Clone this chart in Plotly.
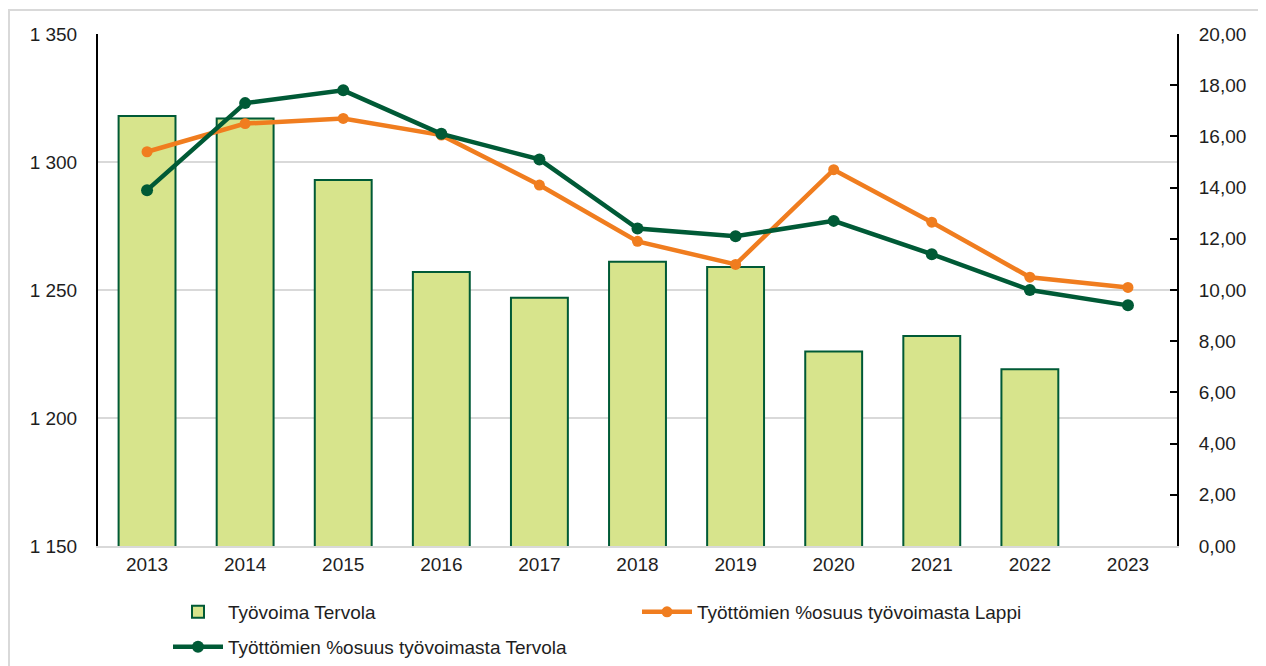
import plotly.graph_objects as go

years = ["2013", "2014", "2015", "2016", "2017", "2018", "2019", "2020", "2021", "2022", "2023"]
tyovoima_tervola = [1318, 1317, 1293, 1257, 1247, 1261, 1259, 1226, 1232, 1219, None]
osuus_lappi = [15.4, 16.5, 16.7, 16.05, 14.1, 11.9, 11.0, 14.7, 12.65, 10.5, 10.1]
osuus_tervola = [13.9, 17.3, 17.8, 16.1, 15.1, 12.4, 12.1, 12.7, 11.4, 10.0, 9.4]

left_ticks = [1150, 1200, 1250, 1300, 1350]
right_ticks = [0, 2, 4, 6, 8, 10, 12, 14, 16, 18, 20]

DARK = "#005a36"
ORANGE = "#f07d1f"
BARFILL = "#d7e48c"
FONT = "Liberation Sans, Arial, sans-serif"
TXT = "#1e1e1e"
FS = 19

# page body has an 8px margin: work in screen coords and shift
OFF = 8
W, H = 1266 - OFF, 666 - OFF
L, R, T, B = 98 - OFF, 1177 - OFF, 34 - OFF, 546 - OFF


def px(x):
    return (x - OFF - L) / (R - L)


def py(y):
    return (B - (y - OFF)) / (B - T)


fig = go.Figure()
fig.add_trace(go.Bar(
    x=years, y=tyovoima_tervola, name="Työvoima Tervola",
    marker=dict(color=BARFILL, line=dict(color=DARK, width=2)),
    width=0.58, yaxis="y", legend="legend",
))
fig.add_trace(go.Scatter(
    x=years, y=osuus_lappi, name="Työttömien %osuus työvoimasta Lappi",
    mode="lines+markers", line=dict(color=ORANGE, width=4.5),
    marker=dict(color=ORANGE, size=11), yaxis="y2", legend="legend",
))
fig.add_trace(go.Scatter(
    x=years, y=osuus_tervola, name="Työttömien %osuus työvoimasta Tervola",
    mode="lines+markers", line=dict(color=DARK, width=4.5),
    marker=dict(color=DARK, size=12), yaxis="y2", legend="legend2",
))

fig.update_layout(
    width=W, height=H,
    margin=dict(l=L, r=W - R, t=T, b=H - B, autoexpand=False),
    paper_bgcolor="white", plot_bgcolor="white",
    separators=", ",
    font=dict(family=FONT, size=FS, color=TXT),
    showlegend=True,
    xaxis=dict(
        type="category", categoryorder="array", categoryarray=years,
        showline=True, linecolor="#d9d9d9", linewidth=1.5,
        showgrid=False, ticks="", tickfont=dict(size=FS, color=TXT),
        range=[-0.5, 10.5], automargin=False,
    ),
    yaxis=dict(
        range=[1150, 1350], tickvals=left_ticks, tickformat=",d",
        showgrid=True, gridcolor="#d9d9d9", gridwidth=1.5,
        showline=True, linecolor="black", linewidth=2,
        ticks="", ticklabelstandoff=15, zeroline=False,
        tickfont=dict(size=FS, color=TXT), automargin=False,
    ),
    yaxis2=dict(
        range=[0, 20], tickvals=right_ticks, tickformat=".2f",
        overlaying="y", side="right",
        showgrid=False, showline=True, linecolor="black", linewidth=2,
        ticks="inside", ticklen=7, tickwidth=2, tickcolor="black",
        ticklabelstandoff=16, zeroline=False,
        tickfont=dict(size=FS, color=TXT), automargin=False,
    ),
    legend=dict(
        orientation="h", x=px(168), xanchor="left", y=py(612), yanchor="middle",
        entrywidth=404, entrywidthmode="pixels",
        font=dict(size=FS, color=TXT), itemwidth=50,
        bgcolor="rgba(0,0,0,0)",
    ),
    legend2=dict(
        orientation="h", x=px(168), xanchor="left", y=py(647), yanchor="middle",
        font=dict(size=FS, color=TXT), itemwidth=50,
        bgcolor="rgba(0,0,0,0)",
    ),
    shapes=[dict(
        type="rect", xref="paper", yref="paper",
        x0=px(OFF + 1), x1=px(1280), y0=py(690), y1=py(10),
        line=dict(color="#d9d9d9", width=2), fillcolor="rgba(0,0,0,0)",
        layer="below",
    )],
)

fig.write_html("out.html")
